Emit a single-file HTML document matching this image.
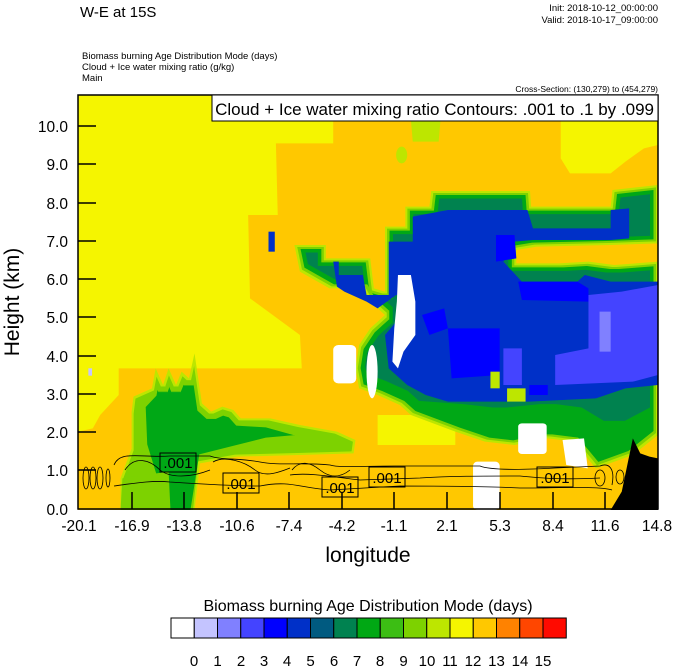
<!DOCTYPE html>
<html><head><meta charset="utf-8"><style>
body{margin:0;background:#fff;}
svg{display:block;font-family:"Liberation Sans",sans-serif;}
</style></head><body>
<svg width="674" height="667" viewBox="0 0 674 667" xmlns="http://www.w3.org/2000/svg">
<defs>
<filter id="e1" x="-10%" y="-10%" width="120%" height="120%"><feMorphology operator="erode" radius="6"/></filter>
<filter id="e2" x="-10%" y="-10%" width="120%" height="120%"><feMorphology operator="erode" radius="12"/></filter>
<filter id="e3" x="-10%" y="-10%" width="120%" height="120%"><feMorphology operator="erode" radius="22"/></filter>
<clipPath id="pc"><rect x="0" y="0" width="1568" height="1245"/></clipPath>
</defs>
<text x="80" y="17" font-size="15">W-E at 15S</text>
<text x="658" y="11" font-size="9.5" text-anchor="end">Init: 2018-10-12_00:00:00</text>
<text x="658" y="23" font-size="9.5" text-anchor="end">Valid: 2018-10-17_09:00:00</text>
<text x="82" y="59" font-size="9.5">Biomass burning Age Distribution Mode   (days)</text>
<text x="82" y="70" font-size="9.5">Cloud + Ice water mixing ratio   (g/kg)</text>
<text x="82" y="81" font-size="9.5">Main</text>
<text x="658" y="92" font-size="8.5" text-anchor="end">Cross-Section: (130,279) to (454,279)</text>

<g transform="translate(78,95) scale(0.36990,0.33333)" clip-path="url(#pc)">
<rect x="0" y="0" width="1568" height="1245" fill="#ffc800"/>
<polygon fill="#f5f500" points="0,0 690,0 690,145 535,145 540,360 460,360 465,610 600,720 605,820 110,820 110,900 60,960 40,1000 0,1010"/>
<polygon fill="#f5f500" points="1305,0 1568,0 1568,150 1530,160 1480,200 1440,235 1330,235 1305,190"/>
<polygon fill="#bde600" points="900,75 980,75 975,140 905,140"/>
<ellipse cx="875" cy="180" rx="15" ry="25" fill="#bde600"/>
<polygon fill="#f5f500" points="810,960 1020,960 1020,1050 810,1050"/>
<!-- main cloud envelope -->
<g>
<polygon fill="#bde600" points="585,450 670,450 670,490 790,490 800,580 830,590 830,395 885,395 885,335 950,335 955,288 1222,288 1225,335 1440,335 1445,285 1568,270 1568,445 1440,450 1240,455 1185,465 1185,505 1300,505 1380,500 1450,510 1568,500 1568,1020 1500,1080 1400,1120 1340,1040 1270,1030 1180,1050 1100,1040 1020,1010 900,960 870,930 810,900 760,880 750,820 760,750 790,700 830,660 790,620 770,580 680,580 600,530"/>
<polygon fill="#7dd200" filter="url(#e1)" points="585,450 670,450 670,490 790,490 800,580 830,590 830,395 885,395 885,335 950,335 955,288 1222,288 1225,335 1440,335 1445,285 1568,270 1568,445 1440,450 1240,455 1185,465 1185,505 1300,505 1380,500 1450,510 1568,500 1568,1020 1500,1080 1400,1120 1340,1040 1270,1030 1180,1050 1100,1040 1020,1010 900,960 870,930 810,900 760,880 750,820 760,750 790,700 830,660 790,620 770,580 680,580 600,530"/>
<polygon fill="#00a814" filter="url(#e2)" points="585,450 670,450 670,490 790,490 800,580 830,590 830,395 885,395 885,335 950,335 955,288 1222,288 1225,335 1440,335 1445,285 1568,270 1568,445 1440,450 1240,455 1185,465 1185,505 1300,505 1380,500 1450,510 1568,500 1568,1020 1500,1080 1400,1120 1340,1040 1270,1030 1180,1050 1100,1040 1020,1010 900,960 870,930 810,900 760,880 750,820 760,750 790,700 830,660 790,620 770,580 680,580 600,530"/>
<polygon fill="#008250" filter="url(#e3)" points="585,450 670,450 670,490 790,490 800,580 830,590 830,395 885,395 885,335 950,335 955,288 1222,288 1225,335 1440,335 1445,285 1568,270 1568,445 1440,450 1240,455 1185,465 1185,505 1300,505 1380,500 1450,510 1568,500 1568,960 1500,1000 1400,1000 1340,960 1270,950 1180,960 1100,960 1020,950 900,940 870,910 810,880 760,860 750,820 760,750 790,700 830,660 790,620 770,580 680,580 600,530"/>
</g>
<polygon fill="#0030c8" points="690,500 705,500 705,540 770,540 780,600 840,600 840,440 905,440 905,365 1000,345 1215,345 1230,400 1440,400 1440,345 1490,340 1490,430 1440,435 1230,435 1180,440 1150,500 1200,560 1350,560 1370,540 1440,560 1568,560 1568,870 1480,880 1400,910 1220,920 1000,920 940,900 890,870 840,820 830,720 860,680 880,640 900,600 860,600 810,640 780,620 720,590 700,575"/>
<polygon fill="#0000ff" points="1130,420 1180,420 1185,490 1130,500"/>
<polygon fill="#0000ff" points="1000,700 1140,700 1140,840 1010,850"/>
<polygon fill="#0000ff" points="1190,560 1350,560 1380,580 1380,620 1200,615"/>
<polygon fill="#0000ff" points="930,660 990,640 1000,700 950,720"/>
<polygon fill="#0000ff" points="1220,870 1270,870 1270,900 1220,900"/>
<polygon fill="#4444ff" points="1380,600 1470,590 1568,570 1568,840 1500,860 1290,870 1290,780 1380,760"/>
<polygon fill="#8080ff" points="1410,650 1440,650 1440,770 1410,770"/>
<polygon fill="#4444ff" points="1150,760 1200,760 1200,870 1150,870"/>
<polygon fill="#bde600" points="1115,830 1140,830 1140,880 1115,880"/>
<polygon fill="#bde600" points="1160,880 1210,880 1210,920 1160,920"/>
<polygon fill="#0030c8" points="515,410 532,410 532,470 515,470"/>
<!-- white blobs -->
<polygon fill="#fff" points="865,540 900,540 912,620 912,720 880,770 865,820 850,800 855,700 862,620"/>
<rect x="690" y="750" width="62" height="115" rx="14" fill="#fff"/>
<ellipse cx="795" cy="830" rx="15" ry="80" fill="#fff"/>
<rect x="1190" y="985" width="77" height="92" rx="10" fill="#fff"/>
<polygon fill="#fff" points="1310,1035 1368,1030 1378,1120 1320,1110"/>
<rect x="1068" y="1100" width="72" height="145" rx="12" fill="#fff"/>
<rect x="28" y="820" width="10" height="22" fill="#c4c4ff"/>
<!-- lower-left green -->
<polygon fill="#bde600" points="150,905 200,880 210,820 230,870 245,820 265,870 280,830 300,850 315,775 335,925 360,950 390,935 420,945 440,970 520,970 600,990 700,1010 750,1035 745,1075 600,1080 430,1085 330,1105 315,1245 115,1245 115,1150 145,1060 145,950"/>
<polygon fill="#7dd200" filter="url(#e1)" points="150,905 200,880 210,820 230,870 245,820 265,870 280,830 300,850 315,775 335,925 360,950 390,935 420,945 440,970 520,970 600,990 700,1010 750,1035 745,1075 600,1080 430,1085 330,1105 315,1265 115,1265 115,1150 145,1060 145,950"/>
<polygon fill="#00a814" filter="url(#e2)" points="170,925 200,890 210,830 230,880 245,830 265,880 280,840 300,860 315,785 335,935 360,960 390,945 420,955 440,980 520,985 600,1010 620,1030 520,1040 430,1065 340,1090 315,1265 190,1265 200,1150 175,1060"/>
<polygon fill="#7dd200" points="120,1150 245,1130 250,1245 115,1245"/>
<!-- terrain -->
<polygon fill="#000" points="1440,1245 1470,1190 1500,1030 1520,1075 1545,1085 1568,1090 1568,1245"/>
</g>

<!-- contours -->
<g fill="none" stroke="#000" stroke-width="0.8">
<path d="M114,465 C120,450 140,458 170,456 L210,456 C220,460 240,458 260,462 C280,466 300,462 330,465 C340,468 360,466 395,466 L480,466 C490,470 520,470 555,468 L600,466 C610,462 615,470 612,485"/>
<path d="M114,486 C130,484 150,480 170,482 C200,484 230,486 260,486 C290,480 300,488 330,490 L400,486 C440,486 480,486 520,488 C560,488 600,486 612,490"/>
<path d="M290,475 C310,472 340,478 360,480 L420,478 C450,476 480,476 520,476 C540,478 560,480 600,478"/>
<path d="M125,470 C135,455 150,460 160,470 C170,478 190,478 210,470"/>
<ellipse cx="86" cy="478" rx="3" ry="11"/><ellipse cx="93" cy="478" rx="3" ry="11"/><ellipse cx="100" cy="478" rx="3" ry="11"/>
<ellipse cx="108" cy="478" rx="2" ry="9"/>
<path d="M292,470 C300,460 310,462 320,470 C330,478 340,478 350,470"/>
<path d="M213,462 C225,455 245,462 255,470 C265,478 280,472 290,468"/>
<ellipse cx="600" cy="478" rx="5" ry="8"/><ellipse cx="620" cy="477" rx="4" ry="7"/>
</g>
<g font-size="15" text-anchor="middle">
<rect x="160" y="453" width="36" height="19" fill="none" stroke="#000" stroke-width="1"/><text x="178" y="468">.001</text>
<rect x="223" y="473" width="36" height="20" fill="none" stroke="#000" stroke-width="1"/><text x="241" y="489">.001</text>
<rect x="322" y="477" width="36" height="20" fill="none" stroke="#000" stroke-width="1"/><text x="340" y="493">.001</text>
<rect x="369" y="467" width="36" height="20" fill="none" stroke="#000" stroke-width="1"/><text x="387" y="483">.001</text>
<rect x="537" y="467" width="36" height="20" fill="none" stroke="#000" stroke-width="1"/><text x="555" y="483">.001</text>
</g>

<!-- frame & ticks -->
<rect x="78" y="95" width="580" height="414" fill="none" stroke="#000" stroke-width="1.5"/>
<rect x="212" y="95" width="446" height="26" fill="#fff" stroke="#000" stroke-width="1"/>
<text x="654" y="115" font-size="17" text-anchor="end">Cloud + Ice water mixing ratio Contours: .001 to .1 by .099</text>
<g stroke="#000" stroke-width="1.5">
<line x1="78" y1="126" x2="96" y2="126"/><line x1="78" y1="164" x2="96" y2="164"/><line x1="78" y1="203" x2="96" y2="203"/><line x1="78" y1="241" x2="96" y2="241"/><line x1="78" y1="279" x2="96" y2="279"/><line x1="78" y1="317" x2="96" y2="317"/><line x1="78" y1="356" x2="96" y2="356"/><line x1="78" y1="394" x2="96" y2="394"/><line x1="78" y1="432" x2="96" y2="432"/><line x1="78" y1="470" x2="96" y2="470"/>
<line x1="132" y1="509" x2="132" y2="492"/><line x1="184" y1="509" x2="184" y2="492"/><line x1="237" y1="509" x2="237" y2="492"/><line x1="289" y1="509" x2="289" y2="492"/><line x1="342" y1="509" x2="342" y2="492"/><line x1="394" y1="509" x2="394" y2="492"/><line x1="447" y1="509" x2="447" y2="492"/><line x1="500" y1="509" x2="500" y2="492"/><line x1="553" y1="509" x2="553" y2="492"/><line x1="605" y1="509" x2="605" y2="492"/>
</g>
<g font-size="15.5" text-anchor="end">
<text x="68" y="132">10.0</text><text x="68" y="170">9.0</text><text x="68" y="209">8.0</text><text x="68" y="247">7.0</text><text x="68" y="285">6.0</text><text x="68" y="323">5.0</text><text x="68" y="362">4.0</text><text x="68" y="400">3.0</text><text x="68" y="438">2.0</text><text x="68" y="476">1.0</text><text x="68" y="515">0.0</text>
</g>
<g font-size="15.5" text-anchor="middle">
<text x="79" y="531">-20.1</text><text x="132" y="531">-16.9</text><text x="184" y="531">-13.8</text><text x="237" y="531">-10.6</text><text x="289" y="531">-7.4</text><text x="342" y="531">-4.2</text><text x="394" y="531">-1.1</text><text x="447" y="531">2.1</text><text x="500" y="531">5.3</text><text x="553" y="531">8.4</text><text x="605" y="531">11.6</text><text x="657" y="531">14.8</text>
</g>
<text x="368" y="562" font-size="21" text-anchor="middle">longitude</text>
<text transform="translate(19,302) rotate(-90)" font-size="21" text-anchor="middle">Height (km)</text>

<!-- colorbar -->
<text x="368" y="611" font-size="16" text-anchor="middle">Biomass burning Age Distribution Mode  (days)</text>
<g stroke="#000" stroke-width="1">
<rect x="171" y="618" width="23.25" height="20" fill="#ffffff"/>
<rect x="194.25" y="618" width="23.25" height="20" fill="#c4c4ff"/>
<rect x="217.5" y="618" width="23.25" height="20" fill="#8080ff"/>
<rect x="240.75" y="618" width="23.25" height="20" fill="#4444ff"/>
<rect x="264" y="618" width="23.25" height="20" fill="#0000ff"/>
<rect x="287.25" y="618" width="23.25" height="20" fill="#0030c8"/>
<rect x="310.5" y="618" width="23.25" height="20" fill="#005a80"/>
<rect x="333.75" y="618" width="23.25" height="20" fill="#008250"/>
<rect x="357" y="618" width="23.25" height="20" fill="#00a814"/>
<rect x="380.25" y="618" width="23.25" height="20" fill="#3cbe14"/>
<rect x="403.5" y="618" width="23.25" height="20" fill="#7dd200"/>
<rect x="426.75" y="618" width="23.25" height="20" fill="#bde600"/>
<rect x="450" y="618" width="23.25" height="20" fill="#f5f500"/>
<rect x="473.25" y="618" width="23.25" height="20" fill="#ffc800"/>
<rect x="496.5" y="618" width="23.25" height="20" fill="#ff8200"/>
<rect x="519.75" y="618" width="23.25" height="20" fill="#ff4600"/>
<rect x="543" y="618" width="23.25" height="20" fill="#ff0a00"/>
</g>
<g font-size="15" text-anchor="middle">
<text x="194" y="666">0</text><text x="217.5" y="666">1</text><text x="241" y="666">2</text><text x="264" y="666">3</text><text x="287" y="666">4</text><text x="310.5" y="666">5</text><text x="334" y="666">6</text><text x="357" y="666">7</text><text x="380" y="666">8</text><text x="403.5" y="666">9</text><text x="427" y="666">10</text><text x="450" y="666">11</text><text x="473" y="666">12</text><text x="496.5" y="666">13</text><text x="520" y="666">14</text><text x="543" y="666">15</text>
</g>
</svg>
</body></html>
